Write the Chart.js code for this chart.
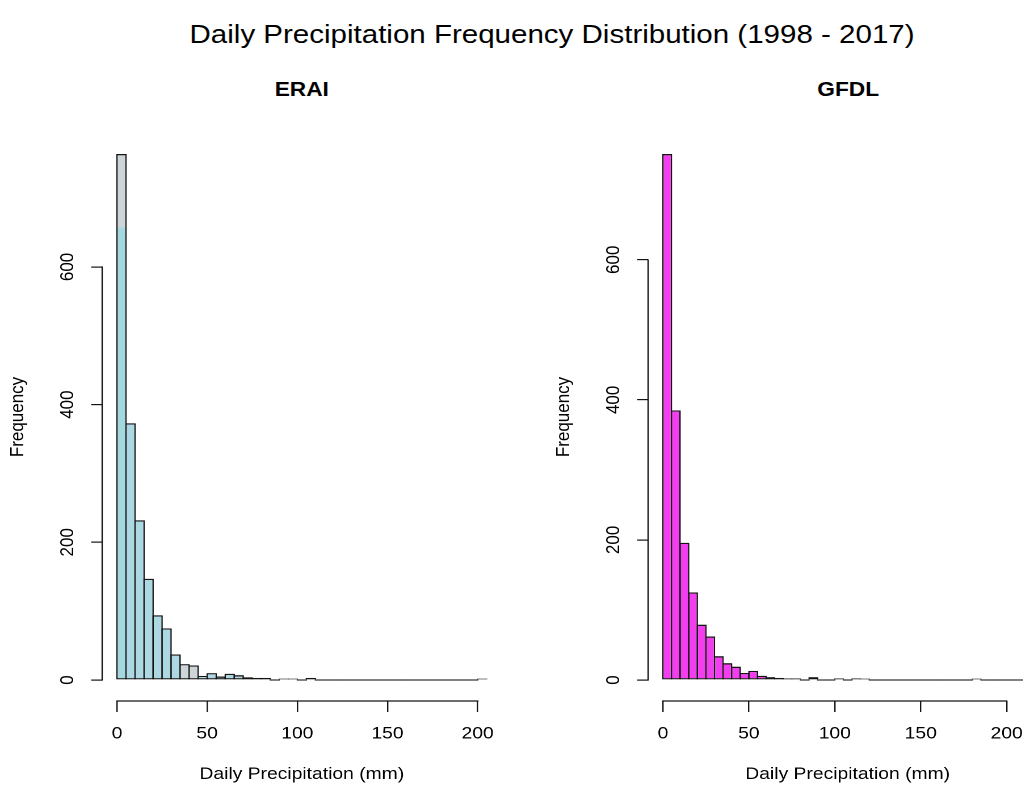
<!DOCTYPE html>
<html><head><meta charset="utf-8">
<script src="https://cdn.jsdelivr.net/npm/chart.js@4/dist/chart.umd.min.js"></script>
<style>
html,body{margin:0;padding:0;background:#fff;overflow:hidden;width:1023px;height:787px;}
#stage{position:absolute;left:0;top:0;width:901.3px;height:787px;transform:scaleX(1.135);transform-origin:0 0;overflow:hidden;background:#fff;}
canvas{position:absolute;top:0;}
.t{position:absolute;transform:translate(-50%,-50%);white-space:nowrap;line-height:1;font-family:"Liberation Sans",Arial,Helvetica,sans-serif;color:#000;}
</style></head>
<body>
<div id="stage">
 <div class="t" style="left:486.4px;top:34px;font-size:26px;">Daily Precipitation Frequency Distribution (1998 - 2017)</div>
 <div class="t" style="left:265.9px;top:89px;font-size:20px;font-weight:bold;">ERAI</div>
 <div class="t" style="left:747.3px;top:89px;font-size:20px;font-weight:bold;">GFDL</div>
 <canvas id="c1" style="left:0px;width:470px;height:787px" width="470" height="787"></canvas>
 <canvas id="c2" style="left:481.4px;width:460px;height:787px" width="460" height="787"></canvas>
</div>
<script>
// ---- data ----
const binWidth = 5; // mm per histogram bin, bins start at 0
const eraiCounts = [764,373,232,147,94,75,37,23,21,6, 10,5,9,7,4,3,3,0,1,2, 0,3,0,0,0,0,0,0,0,0, 0,0,0,0,0,0,0,0,0,0, 1];
const gfdlCounts = [751,385,196,125,79,62,34,24,19,10, 13,6,4,3,2,2,0,4,0,0, 2,0,2,1,0,0,0,0,0,0, 0,0,0,0,0,0,1,0,0,0, 0,0,0];
const xTicks = [0, 50, 100, 150, 200];
const yTicks = [0, 200, 400, 600];
const xTitle = 'Daily Precipitation (mm)';
const yTitle = 'Frequency';

// ---- style ----
const FONT = '"Liberation Sans", Arial, Helvetica, sans-serif';
const BLUE = '#acd8e4';
const BLUE0 = '#a3d9de';
const GRAY = '#cdd5d9';
const MAGENTA = '#f33ef0';
const LINE = '#141414';
const eraiShadeLevel = 657;

const alignPx = p => Math.round((p - 0.5) * 2) / 2 + 0.5;
const rAxes = {
  id: 'rAxes',
  afterDraw(chart) {
    const {ctx, chartArea, scales: {x, y}} = chart;
    ctx.save();
    ctx.strokeStyle = LINE; ctx.lineWidth = 1.2; ctx.lineCap = 'square';
    ctx.beginPath();
    const xb = alignPx(chartArea.bottom);
    ctx.moveTo(alignPx(x.getPixelForValue(xTicks[0])), xb);
    ctx.lineTo(alignPx(x.getPixelForValue(xTicks[xTicks.length - 1])), xb);
    const yl = alignPx(chartArea.left);
    ctx.moveTo(yl, alignPx(y.getPixelForValue(yTicks[0])));
    ctx.lineTo(yl, alignPx(y.getPixelForValue(yTicks[yTicks.length - 1])));
    ctx.stroke();
    ctx.restore();
  }
};

function makeChart(id, counts, bg, padRight) {
  const maxC = Math.max(...counts);
  const span = counts.length * binWidth;
  const pts = counts.map((c, i) => ({x: i * binWidth + binWidth / 2, y: c}));
  return new Chart(document.getElementById(id), {
    type: 'bar',
    data: {datasets: [{
      data: pts, backgroundColor: bg, borderColor: LINE, borderWidth: 1.3,
      borderSkipped: false, minBarLength: 1.3, barPercentage: 1.16, categoryPercentage: 1
    }]},
    options: {
      responsive: false, animation: false, devicePixelRatio: 2,
      layout: {padding: {top: 133, right: padRight, bottom: 0, left: 0}},
      plugins: {legend: {display: false}, tooltip: {enabled: false}, title: {display: false}},
      scales: {
        x: {
          type: 'linear', offset: false, min: -0.04 * span, max: span * 1.04,
          afterBuildTicks: s => { s.ticks = xTicks.map(v => ({value: v})); },
          afterFit: s => { s.height = 86; },
          grid: {display: true, offset: false, drawOnChartArea: false, drawTicks: true, tickLength: 11, color: LINE, lineWidth: 1.2},
          border: {display: false},
          ticks: {autoSkip: false, maxRotation: 0, minRotation: 0, padding: 11.8, color: '#000', font: {family: FONT, size: 17}},
          title: {display: true, text: xTitle, color: '#000', font: {family: FONT, size: 17, lineHeight: 1.2}, padding: {top: 0, bottom: 2.5}}
        },
        y: {
          type: 'linear', min: -0.04 * maxC, max: maxC * 1.04,
          afterBuildTicks: s => { s.ticks = yTicks.map(v => ({value: v})); },
          afterFit: s => { s.width = 90.04; },
          grid: {display: true, drawOnChartArea: false, drawTicks: true, tickLength: 9.7, color: LINE, lineWidth: 1.2},
          border: {display: false},
          ticks: {autoSkip: false, minRotation: 90, maxRotation: 90, crossAlign: 'center', padding: 6.2, color: '#000', font: {family: FONT, size: 17}},
          title: {display: true, text: yTitle, color: '#000', font: {family: FONT, size: 17, lineHeight: 1.2}, padding: {top: 5.7, bottom: 0}}
        }
      }
    },
    plugins: [rAxes]
  });
}

const eraiColor = (c) => {
  const i = c.dataIndex;
  const chart = c.chart;
  if (i === 0 && chart.chartArea && chart.scales.y) {
    const y = chart.scales.y;
    const top = y.getPixelForValue(eraiCounts[0]);
    const bot = y.getPixelForValue(0);
    const g = chart.ctx.createLinearGradient(0, top, 0, bot);
    const split = (eraiCounts[0] - eraiShadeLevel) / eraiCounts[0];
    g.addColorStop(0, GRAY); g.addColorStop(split, GRAY);
    g.addColorStop(split, BLUE0); g.addColorStop(1, BLUE0);
    return g;
  }
  return (i === 7 || i === 8) ? GRAY : BLUE;
};

makeChart('c1', eraiCounts, eraiColor, 28.2);
makeChart('c2', gfdlCounts, MAGENTA, 18.3);
</script>
</body></html>
